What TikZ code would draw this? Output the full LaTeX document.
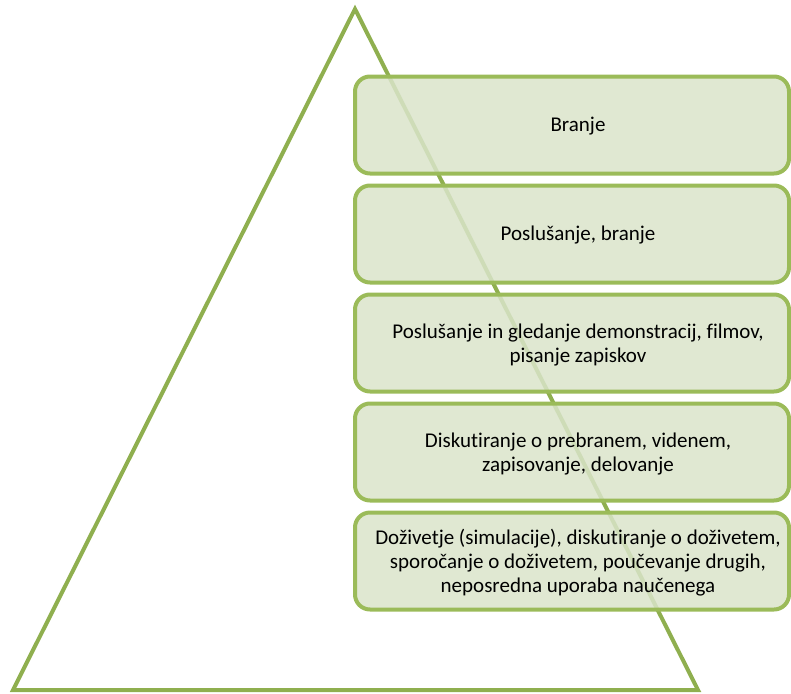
\documentclass[tikz,border=0pt]{standalone}
\usepackage{fontspec}
\setmainfont{Carlito}[Ligatures={NoCommon,NoContextual}]
\definecolor{trigreen}{HTML}{8FAF4F}
\definecolor{boxedge}{HTML}{9BBB59}
\definecolor{boxfill}{RGB}{218,228,202}
\tikzset{
  x=1pt, y=-1pt,
  tri/.style={draw=trigreen, line width=4pt, line join=miter},
  levelbox/.style={draw=boxedge, line width=4pt, fill=boxfill, fill opacity=0.85, draw opacity=1,
    rounded corners=15pt, minimum width=434pt, minimum height=97pt, inner sep=0pt},
  leveltext/.style={align=center, font=\fontsize{21pt}{24pt}\selectfont, text=black, inner sep=0pt}
}
\begin{document}
\begin{tikzpicture}
\useasboundingbox (0,0) rectangle (791,693);
\coordinate (apex) at (355,9);
\coordinate (br) at (698,690);
\coordinate (bl) at (13,690);
\draw[tri] (apex) -- (br) -- (bl) -- cycle;

\node[levelbox] (b1) at (572,125) {};
\node[levelbox] (b2) at (572,234) {};
\node[levelbox] (b3) at (572,343) {};
\node[levelbox] (b4) at (572,452) {};
\node[levelbox] (b5) at (572,561) {};

\node[leveltext] (t1) at ([xshift=6pt,yshift=-1pt]b1.center) {Branje};
\node[leveltext] (t2) at ([xshift=6pt,yshift=-1pt]b2.center) {Poslušanje, branje};
\node[leveltext] (t3) at ([xshift=6pt,yshift=-2pt]b3.center) {Poslušanje in gledanje demonstracij, filmov,\\pisanje zapiskov};
\node[leveltext] (t4) at ([xshift=6pt,yshift=-2pt]b4.center) {Diskutiranje o prebranem, videnem,\\zapisovanje, delovanje};
\node[leveltext] (t5) at ([xshift=6pt,yshift=-2pt]b5.center) {Doživetje (simulacije), diskutiranje o doživetem,\\sporočanje o doživetem, poučevanje drugih,\\neposredna uporaba naučenega};
\end{tikzpicture}
\end{document}
